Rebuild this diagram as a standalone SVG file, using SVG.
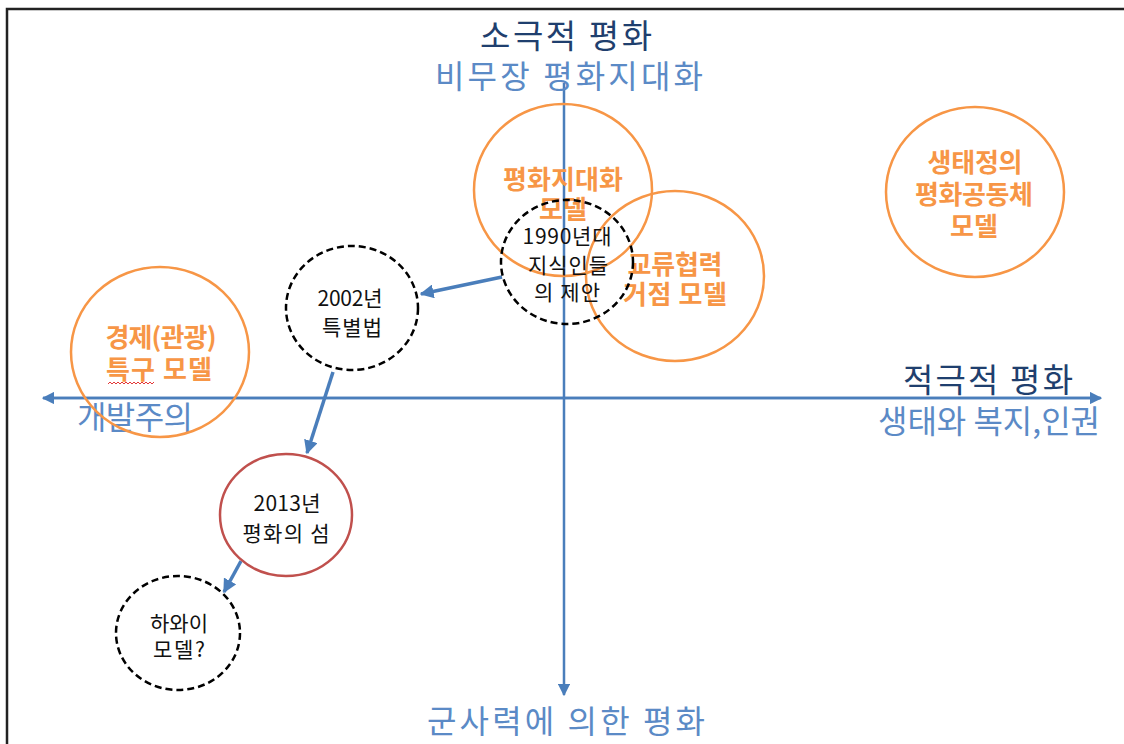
<svg xmlns="http://www.w3.org/2000/svg" width="1124" height="744" viewBox="0 0 1124 744">
<defs>
<marker id="ah" viewBox="0 0 10 10" refX="9" refY="5" markerWidth="4" markerHeight="4" orient="auto" markerUnits="strokeWidth">
<path d="M0,0 L10,5 L0,10 z" fill="#4A7EBB"/>
</marker>
<marker id="ax" viewBox="0 0 10 10" refX="9" refY="5" markerWidth="5" markerHeight="5" orient="auto" markerUnits="strokeWidth">
<path d="M0,0 L10,5 L0,10 z" fill="#4A7EBB"/>
</marker>
<style>
.axis{stroke:#4A7EBB;stroke-width:2.5;fill:none}
.arr{stroke:#4A7EBB;stroke-width:3.5;fill:none}
.oc{fill:none;stroke:#F79646;stroke-width:2.5}
.dc{fill:none;stroke:#000;stroke-width:2.5;stroke-dasharray:7 4}
.rc{fill:none;stroke:#C0504D;stroke-width:2.5}
text{font-family:"Noto Sans CJK KR","Noto Sans",sans-serif;text-anchor:middle}
.dk{fill:#1F3F6E;font-size:33px}
.lb{fill:#5B8AC6;font-size:32px}
.or{fill:#F79646;font-size:26px;font-weight:bold}
.bk{fill:#111;font-size:21px}
</style>
</defs>
<rect x="0" y="0" width="1124" height="744" fill="#fff"/>
<path d="M7,744 V9 H1124" fill="none" stroke="#222" stroke-width="2.5"/>

<g id="connectors">
<line class="axis" x1="564" y1="83" x2="564" y2="695" marker-end="url(#ax)"/>
<line class="axis" x1="1100" y1="398" x2="43" y2="398" marker-end="url(#ax)"/>
<line class="axis" x1="43" y1="398" x2="1101" y2="398" marker-end="url(#ax)"/>
<line class="arr" x1="502" y1="277" x2="421" y2="294" marker-end="url(#ah)"/>
<line class="arr" x1="333" y1="372" x2="307" y2="453" marker-end="url(#ah)"/>
<line class="arr" x1="241" y1="561" x2="224" y2="592" marker-end="url(#ah)"/>
</g>

<g id="axis-labels">
<text class="dk" x="566" y="48" textLength="172">소극적 평화</text>
<text class="lb" x="569" y="88" textLength="268">비무장 평화지대화</text>
<text class="dk" x="988" y="392" textLength="170">적극적 평화</text>
<text class="lb" x="989" y="433" font-size="31" textLength="222">생태와 복지,인권</text>
<text class="lb" x="135" y="429" font-size="31" textLength="116">개발주의</text>
<text class="lb" x="566" y="733" textLength="278">군사력에 의한 평화</text>
</g>

<g id="n-peacezone">
<ellipse class="oc" cx="563" cy="190" rx="89" ry="86"/>
<text class="or" x="563" y="189" textLength="120">평화지대화</text>
<text class="or" x="563" y="219">모델</text>
</g>

<g id="n-exchange">
<ellipse class="oc" cx="675" cy="276" rx="89" ry="85"/>
<text class="or" x="675" y="274" textLength="95">교류협력</text>
<text class="or" x="675" y="304" textLength="104">거점 모델</text>
</g>

<g id="n-economy">
<ellipse class="oc" cx="160" cy="352" rx="89" ry="85"/>
<text class="or" x="161" y="347" textLength="111">경제(관광)</text>
<text class="or" x="159" y="379" textLength="106">특구 모델</text>
<path d="M108,384 l2,-2 l2,2 l2,-2 l2,2 l2,-2 l2,2 l2,-2 l2,2 l2,-2 l2,2 l2,-2 l2,2 l2,-2 l2,2 l2,-2 l2,2 l2,-2 l2,2 l2,-2 l2,2 l2,-2 l2,2 l2,-2" fill="none" stroke="#E02020" stroke-width="0.9"/>
</g>

<g id="n-ecology">
<ellipse class="oc" cx="975" cy="192" rx="89" ry="85"/>
<text class="or" x="975" y="172" textLength="95">생태정의</text>
<text class="or" x="974" y="204" textLength="118">평화공동체</text>
<text class="or" x="974" y="236">모델</text>
</g>

<g id="n-1990">
<ellipse class="dc" cx="567" cy="262" rx="66" ry="62"/>
<text class="bk" x="567" y="244" textLength="89">1990년대</text>
<text class="bk" x="568" y="273" textLength="80">지식인들</text>
<text class="bk" x="567" y="300" textLength="66">의 제안</text>
</g>

<g id="n-2002">
<ellipse class="dc" cx="352" cy="308" rx="66" ry="62"/>
<text class="bk" x="350" y="306" textLength="65">2002년</text>
<text class="bk" x="352" y="335" textLength="60">특별법</text>
</g>

<g id="n-2013">
<ellipse class="rc" cx="286" cy="515" rx="66" ry="61"/>
<text class="bk" x="287" y="511" textLength="67">2013년</text>
<text class="bk" x="286" y="541" textLength="87">평화의 섬</text>
</g>

<g id="n-hawaii">
<ellipse class="dc" cx="178" cy="633" rx="62" ry="57"/>
<text class="bk" x="179" y="631">하와이</text>
<text class="bk" x="179" y="657" textLength="52">모델?</text>
</g>
</svg>
